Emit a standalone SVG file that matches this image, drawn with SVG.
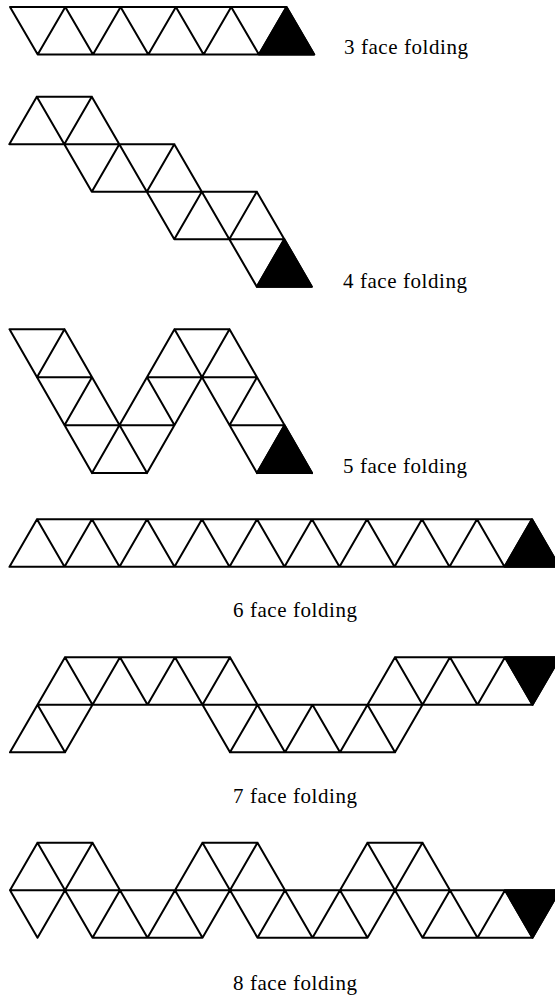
<svg xmlns="http://www.w3.org/2000/svg" width="555" height="998" viewBox="0 0 555 998">
<style>
.e{fill:none;stroke:#000;stroke-width:2;stroke-linecap:round;stroke-linejoin:round}
.b{fill:#000;stroke:#000;stroke-width:2;stroke-linejoin:round}
.t{font-family:"Liberation Serif","Times New Roman",serif;font-size:21px;fill:#000}
</style>
<rect width="555" height="998" fill="#fff"/>
<g id="fold3">
<polygon class="b" points="258.9,54.5 286.5,7 314.2,54.5"/>
<path class="e" d="M10,7H286.5M37.7,54.5H314.2M10,7L37.7,54.5L65.3,7L93,54.5L120.6,7L148.3,54.5L175.9,7L203.6,54.5L231.2,7L258.9,54.5L286.5,7L314.2,54.5"/>
<text class="t" x="344" y="54" textLength="124">3 face folding</text>
</g>
<g id="fold4">
<polygon class="b" points="256.8,286.7 284.3,239.2 311.8,286.7"/>
<path class="e" d="M36.8,96.7H91.8M9.3,144.2H174.3M91.8,191.7H256.8M174.3,239.2H284.3M256.8,286.7H311.8
M36.8,96.7L91.8,191.7M91.8,96.7L174.3,239.2M174.3,144.2L256.8,286.7M256.8,191.7L311.8,286.7
M9.3,144.2L36.8,96.7M64.3,144.2L91.8,96.7M91.8,191.7L119.3,144.2M146.8,191.7L174.3,144.2M174.3,239.2L201.8,191.7M229.3,239.2L256.8,191.7M256.8,286.7L284.3,239.2"/>
<text class="t" x="343" y="288" textLength="124">4 face folding</text>
</g>
<g id="fold5">
<polygon class="b" points="257,473.1 284.5,425.2 312,473.1"/>
<path class="e" d="M9.5,329.3H64.5M174.5,329.3H229.5M37,377.3H92M147,377.3H257M64.5,425.2H174.5M229.5,425.2H284.5M92,473.1H147M257,473.1H312
M9.5,329.3L92,473.1M64.5,329.3L147,473.1M147,377.3L174.5,425.2M174.5,329.3L257,473.1M229.5,329.3L312,473.1
M37,377.3L64.5,329.3M64.5,425.2L92,377.3M92,473.1L174.5,329.3M147,473.1L229.5,329.3M229.5,425.2L257,377.3M257,473.1L284.5,425.2"/>
<text class="t" x="343" y="473" textLength="124">5 face folding</text>
</g>
<g id="fold6">
<polygon class="b" points="504.5,566.8 532,519.3 559.5,566.8"/>
<path class="e" d="M37,519.3H532M9.5,566.8H559.5M9.5,566.8L37,519.3L64.5,566.8L92,519.3L119.5,566.8L147,519.3L174.5,566.8L202,519.3L229.5,566.8L257,519.3L284.5,566.8L312,519.3L339.5,566.8L367,519.3L394.5,566.8L422,519.3L449.5,566.8L477,519.3L504.5,566.8L532,519.3L559.5,566.8"/>
<text class="t" x="233" y="617" textLength="124">6 face folding</text>
</g>
<g id="fold7">
<polygon class="b" points="505,657.3 560,657.3 532.5,704.8"/>
<path class="e" d="M65,657.3H230M395,657.3H560M37.5,704.8H532.5M10,752.3H65M230,752.3H395
M10,752.3L65,657.3M65,752.3L120,657.3M147.5,704.8L175,657.3M202.5,704.8L230,657.3M230,752.3L257.5,704.8M285,752.3L312.5,704.8M340,752.3L395,657.3M395,752.3L450,657.3M477.5,704.8L505,657.3M532.5,704.8L560,657.3
M37.5,704.8L65,752.3M65,657.3L92.5,704.8M120,657.3L147.5,704.8M175,657.3L230,752.3M230,657.3L285,752.3M312.5,704.8L340,752.3M367.5,704.8L395,752.3M395,657.3L422.5,704.8M450,657.3L477.5,704.8M505,657.3L532.5,704.8"/>
<text class="t" x="233" y="803" textLength="124">7 face folding</text>
</g>
<g id="fold8">
<polygon class="b" points="505,890.2 560,890.2 532.5,937.7"/>
<path class="e" d="M37.5,842.7H92.5M202.5,842.7H257.5M367.5,842.7H422.5M10,890.2H560M92.5,937.7H202.5M257.5,937.7H367.5M422.5,937.7H532.5
M37.5,842.7L92.5,937.7M10,890.2L37.5,937.7M92.5,842.7L147.5,937.7M175,890.2L202.5,937.7M202.5,842.7L257.5,937.7M257.5,842.7L312.5,937.7M340,890.2L367.5,937.7M367.5,842.7L422.5,937.7M422.5,842.7L477.5,937.7M505,890.2L532.5,937.7
M10,890.2L37.5,842.7M37.5,937.7L92.5,842.7M92.5,937.7L120,890.2M147.5,937.7L202.5,842.7M202.5,937.7L257.5,842.7M257.5,937.7L285,890.2M312.5,937.7L367.5,842.7M367.5,937.7L422.5,842.7M422.5,937.7L450,890.2M477.5,937.7L505,890.2M532.5,937.7L560,890.2"/>
<text class="t" x="233" y="990" textLength="124">8 face folding</text>
</g>
</svg>
